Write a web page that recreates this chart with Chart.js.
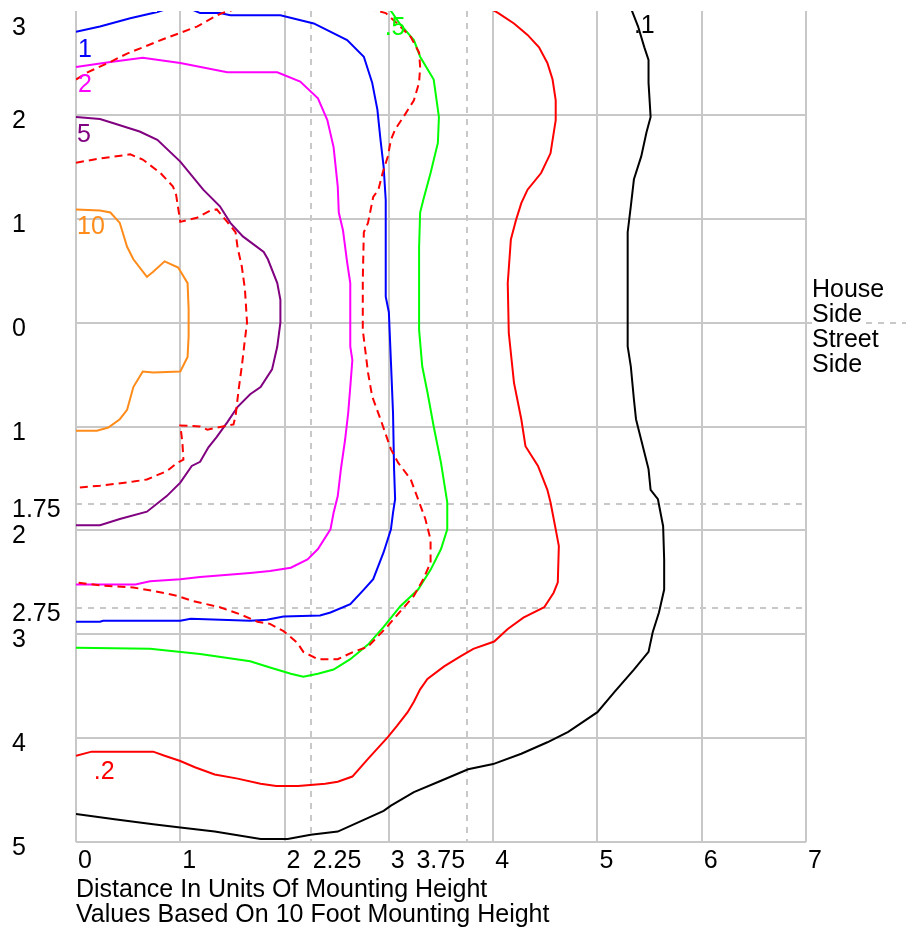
<!DOCTYPE html>
<html>
<head>
<meta charset="utf-8">
<script src="https://cdn.jsdelivr.net/npm/chart.js@4"></script>
<style>
  html, body { margin: 0; padding: 0; background: #fff; }
  #chart { display: block; }
</style>
</head>
<body>
<canvas id="chart" width="906" height="929"></canvas>
<script>
// axis ticks (y: positive = house side, negative = street side)
const xTickValues = [0, 1, 2, 2.25, 3, 3.75, 4, 5, 6, 7];
const xTickLabels = ['0', '1', '2', '2.25', '3', '3.75', '4', '5', '6', '7'];
const yTickValues = [3, 2, 1, 0, -1, -1.75, -2, -2.75, -3, -4, -5];
const yTickLabels = ['3', '2', '1', '0', '1', '1.75', '2', '2.75', '3', '4', '5'];

const xTitle = ['Distance In Units Of Mounting Height', 'Values Based On 10 Foot Mounting Height'];
const sideText = ['House', 'Side', 'Street', 'Side'];

// contour lines, [x, y] in mounting-height units
const iso1 = [[0,2.80],[0.23,2.85],[0.52,2.93],[0.78,2.99],[0.90,3.03],[1.10,3.02],[1.19,2.98],[1.38,2.98],[1.48,2.96],[1.96,2.96],[2.28,2.88],[2.60,2.72],[2.76,2.56],[2.84,2.31],[2.89,2.05],[2.92,1.76],[2.95,1.50],[2.97,1.18],[2.97,0.25],[3.00,0.10],[3.02,-0.38],[3.04,-0.87],[3.05,-1.41],[3.06,-1.70],[3.04,-1.83],[3.02,-1.99],[2.95,-2.21],[2.85,-2.47],[2.76,-2.57],[2.63,-2.71],[2.44,-2.79],[2.34,-2.82],[1.99,-2.83],[1.83,-2.86],[1.67,-2.87],[1.10,-2.85],[1.00,-2.87],[0.26,-2.87],[0.23,-2.88],[0,-2.88]];
const iso2 = [[0,2.46],[0.33,2.51],[0.64,2.55],[1.00,2.50],[1.45,2.41],[1.93,2.41],[2.15,2.32],[2.32,2.16],[2.41,1.95],[2.47,1.69],[2.51,1.31],[2.52,1.06],[2.56,0.89],[2.60,0.58],[2.63,0.38],[2.63,-0.23],[2.65,-0.36],[2.63,-0.62],[2.61,-0.87],[2.58,-1.13],[2.54,-1.41],[2.51,-1.67],[2.47,-1.83],[2.44,-1.99],[2.32,-2.18],[2.22,-2.28],[2.06,-2.36],[1.86,-2.39],[1.67,-2.41],[1.19,-2.45],[1.00,-2.47],[0.71,-2.49],[0.57,-2.52],[0,-2.52]];
const iso5 = [[0,1.98],[0.23,1.96],[0.36,1.92],[0.61,1.84],[0.78,1.76],[1.00,1.55],[1.22,1.28],[1.38,1.12],[1.48,0.96],[1.60,0.83],[1.80,0.68],[1.84,0.61],[1.93,0.38],[1.96,0.22],[1.96,0],[1.93,-0.23],[1.88,-0.45],[1.77,-0.62],[1.67,-0.69],[1.55,-0.81],[1.45,-0.96],[1.35,-1.10],[1.27,-1.20],[1.19,-1.34],[1.11,-1.38],[1.00,-1.54],[0.87,-1.67],[0.68,-1.82],[0.42,-1.89],[0.23,-1.95],[0,-1.95]];
const iso10 = [[0,1.09],[0.23,1.08],[0.33,1.06],[0.42,0.96],[0.49,0.73],[0.55,0.61],[0.68,0.44],[0.74,0.49],[0.85,0.59],[0.98,0.53],[1.07,0.38],[1.08,0.13],[1.08,-0.13],[1.07,-0.33],[1.00,-0.47],[0.74,-0.48],[0.64,-0.47],[0.55,-0.62],[0.49,-0.84],[0.42,-0.93],[0.31,-1.01],[0.20,-1.04],[0,-1.04]];
const iso05 = [[3.00,3.03],[3.11,2.87],[3.24,2.72],[3.30,2.56],[3.43,2.34],[3.48,1.98],[3.47,1.73],[3.40,1.44],[3.33,1.18],[3.30,1.06],[3.29,0.73],[3.29,-0.07],[3.32,-0.42],[3.37,-0.67],[3.43,-1.00],[3.50,-1.35],[3.56,-1.73],[3.56,-1.99],[3.50,-2.18],[3.40,-2.38],[3.28,-2.57],[3.11,-2.73],[2.95,-2.93],[2.80,-3.10],[2.63,-3.24],[2.47,-3.34],[2.32,-3.38],[2.18,-3.41],[2.06,-3.38],[1.86,-3.32],[1.67,-3.26],[1.19,-3.19],[0.71,-3.14],[0,-3.13]];
const iso02 = [[3.98,3.02],[4.05,2.98],[4.20,2.88],[4.33,2.77],[4.44,2.65],[4.52,2.50],[4.57,2.34],[4.60,2.14],[4.60,1.95],[4.55,1.63],[4.46,1.44],[4.33,1.28],[4.27,1.15],[4.22,0.99],[4.17,0.80],[4.14,0.38],[4.15,-0.10],[4.20,-0.58],[4.27,-0.93],[4.31,-1.19],[4.43,-1.38],[4.52,-1.61],[4.55,-1.73],[4.60,-1.99],[4.63,-2.15],[4.62,-2.50],[4.58,-2.60],[4.49,-2.74],[4.29,-2.84],[4.14,-2.95],[4.01,-3.07],[3.81,-3.14],[3.69,-3.21],[3.53,-3.31],[3.37,-3.43],[3.30,-3.53],[3.24,-3.65],[3.18,-3.75],[3.08,-3.88],[2.99,-3.99],[2.80,-4.20],[2.65,-4.37],[2.51,-4.42],[2.39,-4.44],[2.13,-4.46],[1.92,-4.46],[1.77,-4.44],[1.55,-4.39],[1.33,-4.35],[1.14,-4.28],[1.00,-4.22],[0.85,-4.17],[0.74,-4.13],[0.26,-4.13],[0.15,-4.13],[0,-4.17]];
const iso01 = [[5.32,3.03],[5.39,2.85],[5.45,2.65],[5.49,2.53],[5.49,2.31],[5.51,1.98],[5.47,1.83],[5.42,1.60],[5.35,1.38],[5.32,1.12],[5.29,0.87],[5.29,-0.23],[5.32,-0.42],[5.35,-0.74],[5.37,-0.93],[5.42,-1.13],[5.49,-1.41],[5.51,-1.61],[5.58,-1.70],[5.63,-1.96],[5.64,-2.28],[5.64,-2.57],[5.59,-2.79],[5.53,-2.98],[5.49,-3.17],[5.35,-3.34],[5.16,-3.56],[5.00,-3.75],[4.72,-3.94],[4.52,-4.04],[4.27,-4.15],[4.00,-4.25],[3.76,-4.30],[3.50,-4.41],[3.24,-4.52],[3.02,-4.65],[2.95,-4.70],[2.51,-4.90],[2.25,-4.93],[2.03,-4.97],[1.77,-4.97],[1.33,-4.90],[1.00,-4.86],[0.74,-4.83],[0.37,-4.78],[0,-4.73]];
// unlabeled dashed red contours
const dashInner = [[0,1.54],[0.23,1.58],[0.52,1.62],[0.64,1.57],[0.81,1.44],[0.93,1.31],[0.96,1.23],[1.00,0.97],[1.16,1.01],[1.29,1.08],[1.35,1.09],[1.45,0.97],[1.53,0.87],[1.55,0.72],[1.59,0.54],[1.62,0.32],[1.64,0],[1.62,-0.16],[1.59,-0.42],[1.56,-0.64],[1.53,-0.90],[1.51,-0.98],[1.26,-1.03],[1.19,-1.00],[1.00,-0.99],[1.02,-1.15],[1.03,-1.32],[0.97,-1.35],[0.87,-1.43],[0.68,-1.51],[0.55,-1.53],[0.23,-1.57],[0,-1.59]];
const dashOuter = [[0,2.34],[0.11,2.41],[0.33,2.51],[0.49,2.59],[0.64,2.65],[0.84,2.73],[1.00,2.79],[1.16,2.85],[1.32,2.94],[1.40,2.98],[2.15,3.20],[2.97,2.98],[3.08,2.88],[3.21,2.75],[3.29,2.60],[3.30,2.46],[3.29,2.31],[3.24,2.14],[3.14,1.98],[3.06,1.86],[3.02,1.76],[2.99,1.60],[2.94,1.44],[2.90,1.28],[2.85,1.21],[2.80,0.96],[2.76,0.87],[2.75,0.41],[2.75,-0.07],[2.80,-0.48],[2.84,-0.71],[2.92,-0.93],[3.02,-1.22],[3.09,-1.35],[3.21,-1.51],[3.28,-1.70],[3.35,-1.89],[3.40,-2.09],[3.40,-2.31],[3.33,-2.47],[3.24,-2.63],[3.11,-2.78],[2.99,-2.92],[2.80,-3.12],[2.66,-3.17],[2.51,-3.24],[2.32,-3.24],[2.18,-3.17],[2.12,-3.08],[1.99,-2.97],[1.86,-2.90],[1.74,-2.88],[1.58,-2.81],[1.38,-2.74],[1.12,-2.68],[0.97,-2.63],[0.78,-2.59],[0.55,-2.55],[0.23,-2.53],[0,-2.50]];

// contour value labels: text, anchor x, baseline y
const labelText = ['1', '2', '5', '10', '.5', '.1', '.2'];
const labelX = [0.01, 0.01, 0, 0, 2.95, 5.34, 0.16];
const labelY = [2.56, 2.22, 1.74, 0.85, 2.77, 2.79, -4.39];
const labelColor = ['#0000ff', '#ff00ff', '#800080', '#ff8c1a', '#00ff00', '#000000', '#ff0000'];

const FONT = '25px "Liberation Sans", Arial, sans-serif';
const GRID = '#c8c8c8';

function line(data, color, dash) {
  return {
    data: data.map(p => ({ x: p[0], y: p[1] })),
    borderColor: color,
    borderWidth: 2,
    borderDash: dash || [],
    showLine: true,
    pointRadius: 0,
    tension: 0,
    fill: false
  };
}

const textPlugin = {
  id: 'isoText',
  afterDraw(chart) {
    const { ctx, chartArea, scales: { x, y } } = chart;
    ctx.save();
    ctx.font = FONT;
    ctx.textBaseline = 'alphabetic';

    // extension of the 0 line into the side notes
    const y0 = Math.round(y.getPixelForValue(0));
    const sideX = chartArea.right + 6;
    ctx.strokeStyle = GRID;
    ctx.lineWidth = 2;
    ctx.beginPath();
    ctx.moveTo(chartArea.right, y0);
    ctx.lineTo(sideX, y0);
    ctx.stroke();
    ctx.setLineDash([6, 6]);
    ctx.beginPath();
    ctx.moveTo(sideX + ctx.measureText('Side').width + 4, y0);
    ctx.lineTo(chart.width, y0);
    ctx.stroke();
    ctx.setLineDash([]);

    ctx.fillStyle = '#000';
    ctx.textAlign = 'left';
    sideText.forEach((t, i) => ctx.fillText(t, sideX, y0 - 26 + i * 25));

    // y tick labels
    yTickValues.forEach((v, i) => {
      const py = Math.max(y.getPixelForValue(v) + 13, chartArea.top + 24);
      ctx.fillText(yTickLabels[i], 12, py);
    });

    // x tick labels, right-aligned when they would run into the next one
    xTickValues.forEach((v, i) => {
      const px = x.getPixelForValue(v);
      const w = ctx.measureText(xTickLabels[i]).width;
      const next = i + 1 < xTickValues.length ? x.getPixelForValue(xTickValues[i + 1]) : chart.width;
      if (px + 2 + w > next) {
        ctx.textAlign = 'right';
        ctx.fillText(xTickLabels[i], px - 2, chartArea.bottom + 26);
      } else {
        ctx.textAlign = 'left';
        ctx.fillText(xTickLabels[i], px + 2, chartArea.bottom + 26);
      }
    });

    ctx.textAlign = 'left';
    xTitle.forEach((t, i) => ctx.fillText(t, chartArea.left, chartArea.bottom + 55 + i * 25));

    // contour values
    labelText.forEach((t, i) => {
      ctx.fillStyle = labelColor[i];
      ctx.fillText(t, x.getPixelForValue(labelX[i]) + 1, y.getPixelForValue(labelY[i]));
    });
    ctx.restore();
  }
};

function gridColor(ctx) {
  return ctx.tick && ctx.tick.value === 3 && ctx.scale.axis === 'y' ? 'rgba(0,0,0,0)' : GRID;
}
function gridDash(ctx) {
  return ctx.tick && !Number.isInteger(ctx.tick.value) ? [6, 6] : [];
}

new Chart(document.getElementById('chart'), {
  type: 'scatter',
  data: {
    datasets: [
      line(dashOuter, '#ff0000', [8, 5]),
      line(dashInner, '#ff0000', [8, 5]),
      line(iso1, '#0000ff'),
      line(iso2, '#ff00ff'),
      line(iso5, '#800080'),
      line(iso10, '#ff8c1a'),
      line(iso05, '#00ff00'),
      line(iso02, '#ff0000'),
      line(iso01, '#000000')
    ]
  },
  options: {
    responsive: false,
    animation: false,
    devicePixelRatio: 1,
    layout: { padding: { left: 76, right: 100, top: 11, bottom: 87 } },
    plugins: { legend: { display: false }, tooltip: { enabled: false } },
    scales: {
      x: {
        type: 'linear',
        min: 0,
        max: 7,
        afterBuildTicks: axis => { axis.ticks = xTickValues.map(v => ({ value: v })); },
        ticks: { display: false },
        grid: { color: gridColor, lineWidth: 2, drawTicks: false },
        border: { display: false, dash: gridDash }
      },
      y: {
        type: 'linear',
        min: -5,
        max: 3,
        afterBuildTicks: axis => { axis.ticks = yTickValues.map(v => ({ value: v })); },
        ticks: { display: false },
        grid: { color: gridColor, lineWidth: 2, drawTicks: false },
        border: { display: false, dash: gridDash }
      }
    }
  },
  plugins: [textPlugin]
});
</script>
</body>
</html>
